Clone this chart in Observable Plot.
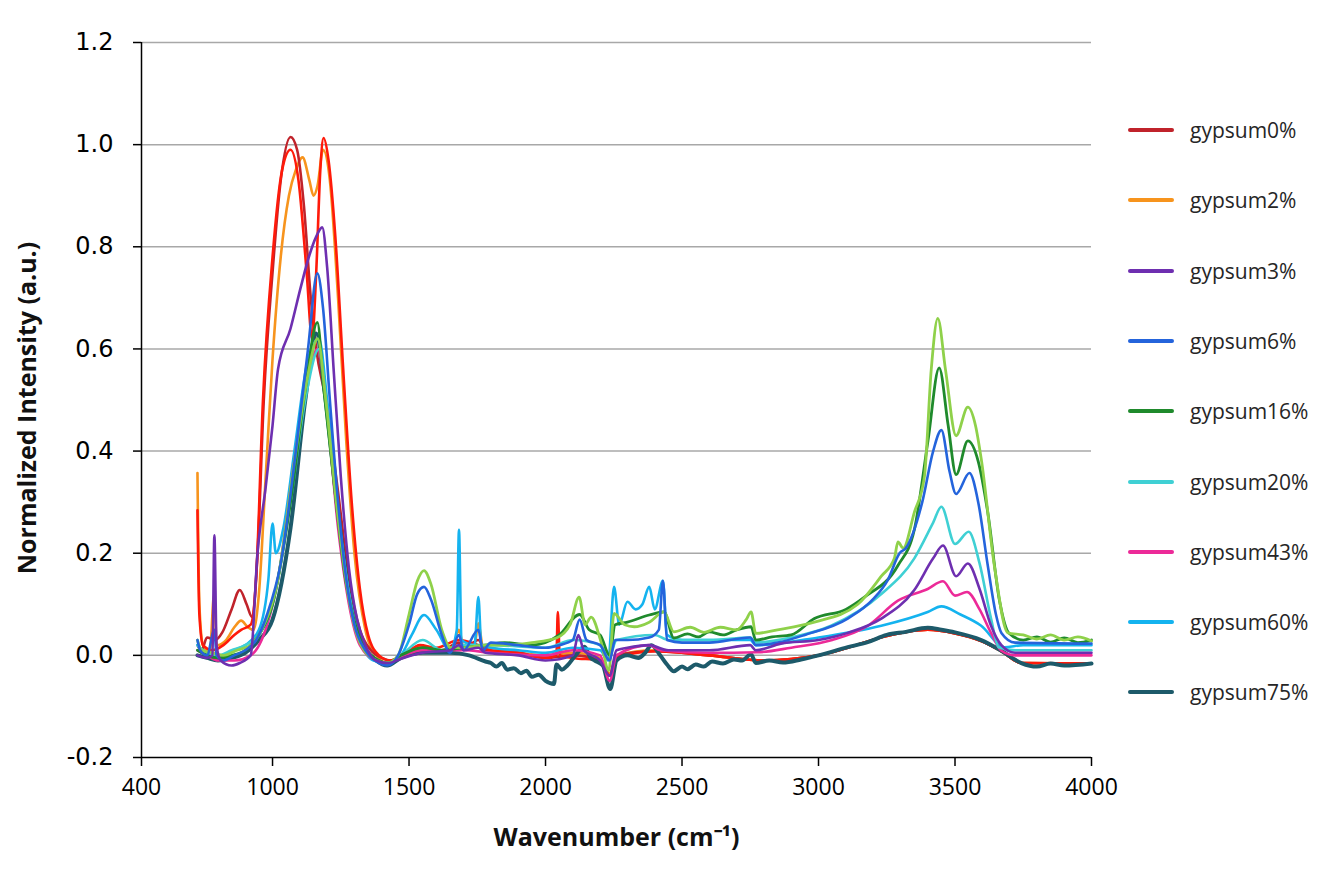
<!DOCTYPE html>
<html>
<head>
<meta charset="utf-8">
<script src="https://cdn.jsdelivr.net/npm/d3@7"></script>
<script src="https://cdn.jsdelivr.net/npm/@observablehq/plot@0.6"></script>
<style>
  body { margin: 0; background: #fff; }
  #wrap { position: relative; width: 1340px; height: 870px; }
  #legend { position: absolute; left: 1128px; top: 0; font-family: "Open Sans"; font-size: 21px; color: #262626; }
  .item { position: absolute; left: 0; height: 30px; display: flex; align-items: center; white-space: nowrap; }
  .swatch { width: 46px; height: 4px; margin-right: 16px; border-radius: 2px; }
</style>
</head>
<body>
<div id="wrap"><div id="chart"></div><div id="legend"></div></div>
<script>
// legend entries
const seriesNames = ["gypsum0%", "gypsum2%", "gypsum3%", "gypsum6%", "gypsum16%", "gypsum20%", "gypsum43%", "gypsum60%", "gypsum75%"];
const seriesColors = ["#c0232b", "#f7941d", "#6e2fb0", "#2464dc", "#1f8a2c", "#3fd0d4", "#ec2a98", "#14b3ef", "#1d5a6a"];

// axis ticks (the first tick of the source sits at ~520 but is labelled 400)
const xTickValues = [520, 1000, 1500, 2000, 2500, 3000, 3500, 4000];
const xTickLabels = ["400", "1000", "1500", "2000", "2500", "3000", "3500", "4000"];
const yTicks = [-0.2, 0, 0.2, 0.4, 0.6, 0.8, 1.0, 1.2];

// spectra, [wavenumber, intensity]
const gypsum0 = [[725,0.02],[740,0.01],[760,0.035],[790,0.03],[816,0.045],[850,0.09],[880,0.128],[905,0.1],[925,0.075],[945,0.2],[968,0.5],[1000,0.75],[1030,0.93],[1066,1.015],[1090,0.99],[1115,0.88],[1140,0.7],[1160,0.6],[1195,0.5],[1240,0.32],[1280,0.15],[1320,0.05],[1360,0.01],[1400,-0.005],[1430,-0.01],[1480,0.0],[1550,0.015],[1620,0.01],[1683,0.025],[1700,0.012],[1754,0.03],[1780,0.01],[1900,0.005],[2000,-0.005],[2100,0.0],[2200,-0.01],[2235,-0.04],[2260,0.0],[2400,0.008],[2600,0.0],[2800,-0.01],[3000,0.0],[3107,0.015],[3250,0.038],[3400,0.05],[3500,0.043],[3596,0.028],[3670,0.008],[3743,-0.015],[4000,-0.016]];
const gypsum2 = [[725,0.357],[732,0.1],[745,0.02],[770,0.005],[786,0.12],[796,0.02],[830,0.03],[860,0.055],[885,0.068],[910,0.055],[930,0.05],[950,0.12],[975,0.35],[1000,0.58],[1030,0.78],[1060,0.9],[1085,0.95],[1110,0.975],[1135,0.93],[1150,0.9],[1165,0.92],[1185,0.99],[1210,0.93],[1240,0.7],[1270,0.42],[1300,0.2],[1340,0.05],[1380,0.0],[1420,-0.015],[1460,-0.005],[1500,0.01],[1550,0.018],[1620,0.01],[1660,0.015],[1683,0.05],[1700,0.015],[1740,0.02],[1754,0.063],[1770,0.02],[1850,0.01],[2000,0.0],[2100,0.005],[2200,-0.005],[2235,-0.035],[2260,0.0],[2400,0.01],[2600,0.0],[2800,-0.01],[3000,0.0],[3107,0.015],[3250,0.038],[3400,0.05],[3500,0.043],[3596,0.028],[3670,0.008],[3743,-0.015],[4000,-0.016]];
const gypsum3 = [[725,0.0],[760,-0.005],[780,0.0],[787,0.235],[795,0.02],[810,-0.01],[850,-0.02],[880,-0.015],[920,0.0],[945,0.2],[975,0.33],[1000,0.45],[1020,0.56],[1066,0.64],[1103,0.72],[1133,0.78],[1160,0.82],[1182,0.838],[1200,0.76],[1225,0.55],[1250,0.35],[1280,0.17],[1310,0.07],[1340,0.02],[1380,-0.01],[1420,-0.015],[1480,-0.005],[1550,0.005],[1650,0.01],[1683,0.02],[1700,0.01],[1754,0.015],[1780,0.005],[1900,0.0],[2000,-0.01],[2100,0.0],[2120,0.04],[2140,0.01],[2200,-0.01],[2235,-0.04],[2260,0.01],[2300,0.015],[2380,0.02],[2450,0.01],[2600,0.01],[2750,0.02],[2770,0.01],[2862,0.023],[3000,0.03],[3107,0.044],[3230,0.072],[3351,0.128],[3420,0.19],[3456,0.215],[3504,0.155],[3547,0.18],[3590,0.13],[3632,0.058],[3670,0.02],[3720,0.005],[4000,0.005]];
const gypsum6 = [[725,0.03],[735,0.01],[760,0.0],[787,0.05],[795,0.0],[820,-0.01],[860,0.0],[900,0.01],[940,0.03],[980,0.08],[1030,0.18],[1090,0.42],[1130,0.6],[1164,0.748],[1185,0.68],[1210,0.5],[1240,0.3],[1270,0.15],[1300,0.06],[1340,0.01],[1390,-0.015],[1420,-0.02],[1460,0.0],[1500,0.06],[1530,0.12],[1555,0.134],[1580,0.11],[1620,0.04],[1650,0.005],[1683,0.04],[1700,0.01],[1754,0.05],[1770,0.01],[1800,0.025],[1900,0.02],[2000,0.015],[2050,0.02],[2100,0.03],[2125,0.07],[2150,0.03],[2200,0.02],[2235,-0.01],[2255,0.03],[2300,0.03],[2380,0.035],[2415,0.05],[2430,0.146],[2445,0.03],[2500,0.025],[2600,0.025],[2750,0.035],[2770,0.02],[2850,0.025],[2950,0.04],[3107,0.072],[3200,0.11],[3254,0.148],[3297,0.2],[3320,0.21],[3380,0.3],[3420,0.4],[3450,0.441],[3480,0.36],[3504,0.316],[3553,0.357],[3585,0.3],[3620,0.176],[3650,0.08],[3670,0.044],[3720,0.025],[4000,0.023]];
const gypsum16 = [[725,0.01],[760,0.0],[800,-0.005],[850,0.0],[900,0.01],[950,0.04],[1000,0.1],[1066,0.3],[1120,0.52],[1164,0.652],[1188,0.52],[1237,0.28],[1270,0.14],[1298,0.07],[1340,0.015],[1390,-0.01],[1420,-0.015],[1470,0.0],[1550,0.015],[1620,0.01],[1700,0.015],[1780,0.02],[1850,0.025],[1950,0.02],[2050,0.04],[2125,0.08],[2160,0.05],[2200,0.04],[2235,0.0],[2255,0.06],[2300,0.065],[2380,0.079],[2434,0.085],[2470,0.034],[2520,0.042],[2560,0.036],[2600,0.046],[2650,0.04],[2700,0.05],[2753,0.056],[2770,0.03],[2830,0.036],[2900,0.04],[2985,0.072],[3100,0.09],[3168,0.114],[3291,0.176],[3351,0.246],[3401,0.42],[3442,0.563],[3475,0.45],[3504,0.354],[3547,0.42],[3585,0.38],[3620,0.28],[3663,0.107],[3697,0.044],[3750,0.03],[3800,0.036],[3850,0.026],[3900,0.034],[3950,0.025],[4000,0.03]];
const gypsum20 = [[725,0.02],[760,0.005],[800,0.0],[850,0.01],[900,0.02],[950,0.04],[1000,0.1],[1066,0.3],[1120,0.5],[1170,0.6],[1195,0.5],[1240,0.28],[1280,0.12],[1320,0.03],[1380,-0.01],[1420,-0.015],[1470,0.0],[1550,0.03],[1620,0.01],[1700,0.02],[1800,0.02],[2000,0.015],[2100,0.03],[2200,0.02],[2235,0.0],[2260,0.03],[2400,0.04],[2450,0.03],[2600,0.03],[2750,0.035],[2770,0.025],[2900,0.035],[3046,0.058],[3230,0.12],[3351,0.19],[3420,0.26],[3450,0.291],[3500,0.218],[3550,0.242],[3590,0.18],[3632,0.072],[3660,0.016],[3720,0.01],[4000,0.01]];
const gypsum43 = [[725,0.01],[760,0.0],[800,-0.01],[860,-0.01],[920,0.0],[960,0.03],[1020,0.15],[1080,0.38],[1130,0.55],[1165,0.6],[1195,0.5],[1240,0.25],[1280,0.1],[1320,0.02],[1380,-0.01],[1420,-0.015],[1480,0.0],[1550,0.01],[1700,0.01],[1800,0.005],[2000,0.0],[2100,0.01],[2200,0.0],[2235,-0.05],[2260,0.0],[2380,0.02],[2420,0.01],[2600,0.005],[2777,0.006],[2900,0.015],[3050,0.03],[3181,0.058],[3291,0.107],[3400,0.13],[3456,0.145],[3500,0.117],[3544,0.124],[3590,0.09],[3632,0.044],[3670,0.009],[3720,0.0],[4000,0.0]];
const gypsum60 = [[725,0.02],[740,0.01],[780,0.0],[820,0.0],[860,0.01],[900,0.02],[950,0.05],[985,0.15],[1000,0.258],[1012,0.2],[1040,0.25],[1080,0.4],[1130,0.58],[1170,0.62],[1200,0.5],[1240,0.28],[1280,0.12],[1320,0.03],[1370,-0.01],[1420,-0.015],[1470,0.0],[1510,0.04],[1555,0.079],[1600,0.05],[1650,0.01],[1675,0.05],[1683,0.246],[1692,0.03],[1740,0.02],[1754,0.114],[1765,0.02],[1800,0.015],[1900,0.01],[2000,0.005],[2100,0.015],[2200,0.01],[2230,-0.01],[2251,0.134],[2270,0.06],[2300,0.105],[2330,0.09],[2355,0.1],[2380,0.134],[2400,0.09],[2430,0.146],[2445,0.04],[2500,0.03],[2600,0.03],[2750,0.03],[2770,0.02],[3000,0.035],[3230,0.058],[3400,0.085],[3450,0.096],[3520,0.08],[3596,0.058],[3680,0.016],[3750,0.02],[4000,0.02]];
const gypsum75 = [[725,0.0],[760,-0.005],[800,-0.01],[850,-0.005],[900,0.005],[950,0.03],[1000,0.07],[1066,0.25],[1120,0.5],[1160,0.63],[1190,0.52],[1240,0.28],[1280,0.12],[1320,0.03],[1380,-0.01],[1420,-0.02],[1470,-0.005],[1550,0.005],[1650,0.005],[1720,0.0],[1780,-0.012],[1800,-0.015],[1820,-0.022],[1840,-0.015],[1860,-0.028],[1884,-0.025],[1910,-0.035],[1930,-0.03],[1950,-0.042],[1975,-0.038],[2000,-0.05],[2031,-0.056],[2040,-0.018],[2060,-0.028],[2080,-0.02],[2110,0.0],[2143,0.017],[2165,-0.005],[2180,-0.01],[2210,-0.02],[2237,-0.066],[2260,-0.01],[2300,0.0],[2340,-0.005],[2365,0.005],[2388,0.02],[2420,0.0],[2445,-0.018],[2470,-0.031],[2500,-0.022],[2520,-0.027],[2550,-0.018],[2580,-0.022],[2610,-0.012],[2650,-0.016],[2690,-0.008],[2720,-0.01],[2753,0.002],[2770,-0.015],[2820,-0.01],[2870,-0.014],[2936,-0.008],[3000,0.0],[3107,0.016],[3180,0.026],[3250,0.04],[3320,0.046],[3400,0.054],[3450,0.05],[3500,0.045],[3596,0.03],[3670,0.009],[3743,-0.015],[3800,-0.022],[3850,-0.016],[3900,-0.02],[4000,-0.016]];
// two traces drawn in the source that have no legend entry
const unlabeledRed = [[725,0.284],[732,0.08],[745,0.02],[780,0.01],[820,0.02],[860,0.04],[885,0.05],[920,0.06],[940,0.15],[965,0.5],[1000,0.78],[1035,0.95],[1066,0.99],[1095,0.93],[1125,0.75],[1145,0.62],[1160,0.75],[1175,0.95],[1187,1.013],[1205,0.97],[1230,0.82],[1260,0.55],[1290,0.3],[1320,0.13],[1350,0.04],[1390,0.0],[1430,-0.01],[1480,0.0],[1540,0.02],[1600,0.015],[1683,0.03],[1754,0.02],[1800,0.01],[1900,0.005],[2000,-0.005],[2040,0.0],[2045,0.085],[2052,0.0],[2100,-0.005],[2200,-0.01],[2235,-0.04],[2260,-0.005],[2400,0.008],[2600,0.0],[2800,-0.01],[3000,0.0],[3107,0.015],[3250,0.038],[3400,0.05],[3500,0.043],[3596,0.028],[3670,0.008],[3743,-0.015],[4000,-0.016]];
const unlabeledLime = [[725,0.03],[740,0.01],[780,0.005],[820,0.0],[870,0.01],[920,0.02],[960,0.05],[1020,0.15],[1080,0.38],[1130,0.55],[1165,0.62],[1195,0.5],[1240,0.27],[1280,0.11],[1320,0.025],[1380,-0.01],[1420,-0.015],[1460,0.0],[1500,0.08],[1530,0.145],[1555,0.166],[1580,0.14],[1620,0.05],[1653,0.015],[1700,0.015],[1780,0.02],[1850,0.02],[1950,0.025],[2040,0.034],[2090,0.06],[2123,0.114],[2145,0.06],[2167,0.075],[2203,0.027],[2232,-0.03],[2251,0.082],[2290,0.06],[2325,0.056],[2380,0.065],[2434,0.085],[2470,0.046],[2530,0.055],[2580,0.045],[2640,0.055],[2700,0.05],[2735,0.07],[2753,0.085],[2770,0.043],[2850,0.05],[2985,0.065],[3144,0.1],[3230,0.155],[3278,0.19],[3291,0.222],[3310,0.21],[3351,0.28],[3388,0.35],[3413,0.56],[3437,0.66],[3465,0.56],[3504,0.43],[3547,0.486],[3575,0.45],[3596,0.385],[3644,0.176],[3694,0.044],[3750,0.04],[3800,0.032],[3850,0.04],[3900,0.03],[3950,0.036],[4000,0.028]];

const xTitle = "Wavenumber (cm\u207B\u00B9)";
const yTitle = "Normalized Intensity (a.u.)";

// bottom to top
const layers = [
  {pts: gypsum2, color: seriesColors[1], w: 2.6},
  {pts: gypsum0, color: seriesColors[0], w: 2.6},
  {pts: unlabeledRed, color: "#ff1a0a", w: 2.6},
  {pts: gypsum75, color: seriesColors[8], w: 4},
  {pts: gypsum60, color: seriesColors[7], w: 2.6},
  {pts: gypsum43, color: seriesColors[6], w: 2.6},
  {pts: gypsum20, color: seriesColors[5], w: 2.6},
  {pts: gypsum16, color: seriesColors[4], w: 2.8},
  {pts: unlabeledLime, color: "#8fd14a", w: 2.8},
  {pts: gypsum6, color: seriesColors[3], w: 2.6},
  {pts: gypsum3, color: seriesColors[2], w: 2.6}
];

const xLabel = new Map(xTickValues.map((v, i) => [v, xTickLabels[i]]));

const chart = Plot.plot({
  width: 1125,
  height: 870,
  marginLeft: 141,
  marginRight: 34,
  marginTop: 42,
  marginBottom: 113,
  style: { background: "transparent", fontFamily: "Open Sans", color: "#000" },
  x: { domain: [520, 4000] },
  y: { domain: [-0.2, 1.2] },
  marks: [
    Plot.gridY(yTicks.filter(d => d > -0.2), { stroke: "#a8a8a8", strokeOpacity: 1, strokeWidth: 1.5 }),
    ...layers.map(l => Plot.line(l.pts, {
      x: d => d[0], y: d => d[1],
      stroke: l.color, strokeWidth: l.w, curve: "monotone-x", strokeLinejoin: "round"
    })),
    Plot.ruleX([520], { stroke: "#000", strokeWidth: 1.5 }),
    Plot.ruleY([-0.2], { stroke: "#000", strokeWidth: 1.5 }),
    Plot.axisY(yTicks, {
      tickSize: 8, tickPadding: 20, strokeWidth: 1.5,
      tickFormat: d => d.toFixed(1), fontSize: 24, fontFamily: "DejaVu Sans", label: null
    }),
    Plot.axisX(xTickValues, {
      tickSize: 9, tickPadding: 12, strokeWidth: 1.5,
      tickFormat: d => xLabel.get(d), fontSize: 23, fontFamily: "Open Sans", label: null
    }),
    Plot.text([yTitle], {
      text: d => d, frameAnchor: "left", textAnchor: "middle", rotate: -90, dx: -114, dy: 8,
      fontSize: 25, fontWeight: "bold", fontFamily: "Open Sans", fill: "#111"
    }),
    Plot.text([xTitle], {
      text: d => d, frameAnchor: "bottom", dy: 88,
      fontSize: 25, fontWeight: "bold", fontFamily: "Open Sans", fill: "#111"
    })
  ]
});

d3.select("#chart").append(() => chart);

const legend = d3.select("#legend");
seriesNames.forEach((name, i) => {
  const item = legend.append("div").attr("class", "item").style("top", (115 + i * 70.3) + "px");
  item.append("div").attr("class", "swatch").style("background", seriesColors[i]);
  item.append("span").text(name);
});
</script>
</body>
</html>
